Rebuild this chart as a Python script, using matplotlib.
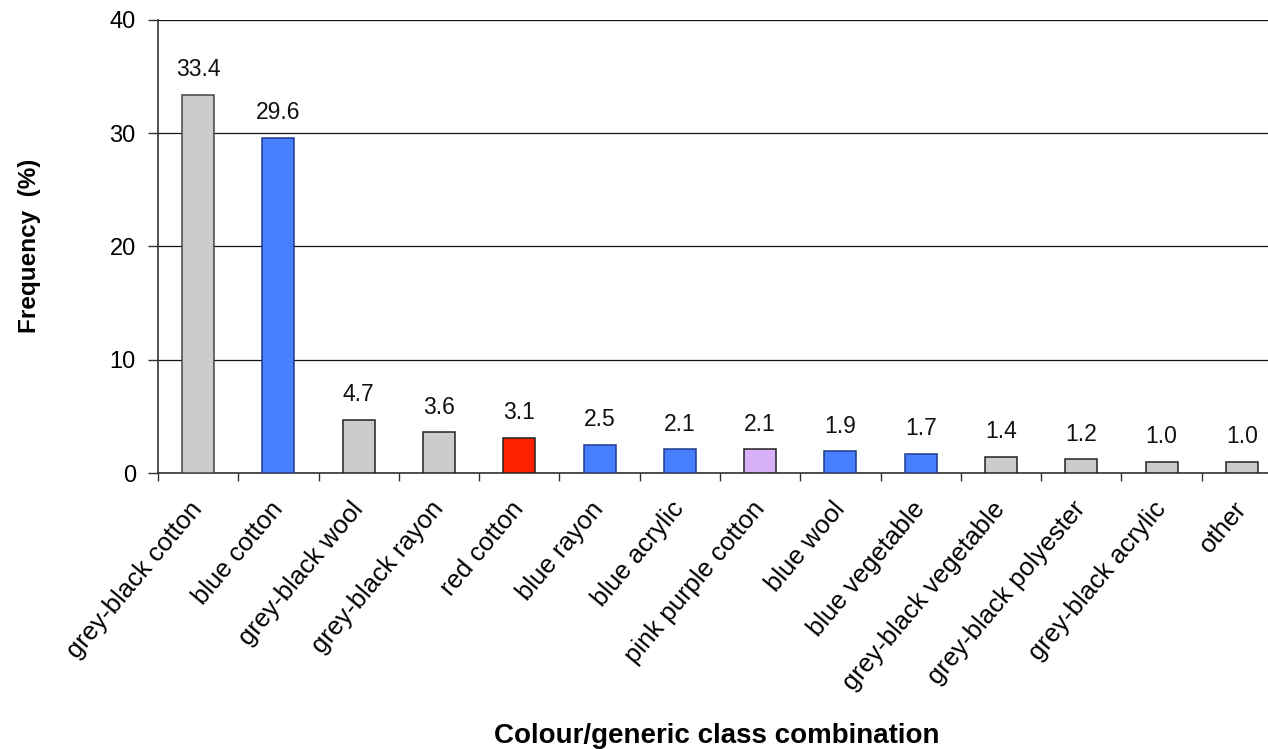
import matplotlib
matplotlib.use("Agg")
import matplotlib.pyplot as plt
import numpy as np

categories = ["grey-black cotton", "blue cotton", "grey-black wool", "grey-black rayon",
              "red cotton", "blue rayon", "blue acrylic", "pink purple cotton", "blue wool",
              "blue vegetable", "grey-black vegetable", "grey-black polyester",
              "grey-black acrylic", "other"]
values = [33.4, 29.6, 4.7, 3.6, 3.1, 2.5, 2.1, 2.1, 1.9, 1.7, 1.4, 1.2, 1.0, 1.0]
colors = ["#CCCCCC", "#4680FF", "#CCCCCC", "#CCCCCC", "#FF2200", "#4680FF", "#4680FF",
          "#D8B0F8", "#4680FF", "#4680FF", "#CCCCCC", "#CCCCCC", "#CCCCCC", "#CCCCCC"]
edges = ["#444444", "#1F3A8A", "#222222", "#222222", "#222222", "#1F3A8A", "#1F3A8A",
         "#222222", "#1F3A8A", "#1F3A8A", "#222222", "#222222", "#222222", "#222222"]
yticks = [0, 10, 20, 30, 40]

plt.rcParams['font.family'] = ['Liberation Sans', 'DejaVu Sans']

W, H = 1268, 749
fig = plt.figure(figsize=(W / 100, H / 100), dpi=100)
left, right, top, bottom = 158, 1282, 20, 473
ax = fig.add_axes([left / W, 1 - bottom / H, (right - left) / W, (bottom - top) / H])

x = np.arange(len(categories))
ax.bar(x, values, width=0.4, color=colors, edgecolor=edges, linewidth=1.1, zorder=3)
for xi, v in zip(x, values):
    ax.text(xi, v + 1.65, f"{v:.1f}", ha="center", va="baseline", fontsize=16.5, color="#111111")

ax.set_xlim(-0.5, len(categories) - 0.5)
ax.set_ylim(0, 40)
ax.set_yticks(yticks)
ax.set_yticklabels([str(t) for t in yticks], fontsize=17)
ax.yaxis.grid(True, color="#111111", linewidth=0.9, zorder=0)

ax.set_xticks(x)
ax.set_xticklabels(categories, rotation=50, ha="right", va="center",
                   rotation_mode="anchor", fontsize=18.5)
ax.tick_params(axis="x", length=0, pad=23)
ax.set_xticks(np.arange(len(categories) + 1) - 0.5, minor=True)
ax.tick_params(axis="x", which="minor", length=5.5, width=1, color="#333333")
ax.tick_params(axis="y", length=7, width=1, color="#333333", pad=9)

for s in ["top", "right"]:
    ax.spines[s].set_visible(False)
ax.spines["left"].set_color("#333333")
ax.spines["bottom"].set_color("#333333")
ax.spines["left"].set_linewidth(1.2)
ax.spines["bottom"].set_linewidth(1.2)

fig.text(30 / W, 1 - 246 / H, "Frequency  (%)", rotation=90, ha="center", va="center",
         fontsize=17.5, fontweight="bold")
fig.text(717 / W, 1 - 743 / H, "Colour/generic class combination", ha="center", va="baseline",
         fontsize=20, fontweight="bold")

fig.savefig("out.png", dpi=100)
